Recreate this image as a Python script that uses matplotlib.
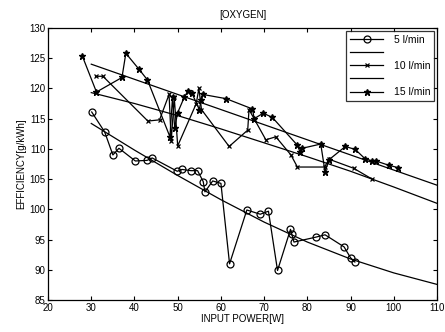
import matplotlib
matplotlib.use("Agg")
import matplotlib.pyplot as plt

p5 = [30.1, 33.1, 35.0, 36.4, 40.2, 42.9, 44.1, 49.9, 51.0, 53.1, 54.6, 55.9, 56.3,
      58.1, 60.0, 62.0, 66.0, 69.1, 71.0, 73.1, 76.1, 76.4, 76.9, 81.9, 84.1, 88.5,
      90.0, 91.0]
e5 = [116.1, 112.8, 109.0, 110.1, 108.0, 108.1, 108.5, 106.3, 106.6, 106.4, 106.4,
      104.6, 102.9, 104.7, 104.3, 91.0, 99.9, 99.2, 99.7, 89.9, 96.7, 95.9, 94.6,
      95.4, 95.8, 93.8, 92.0, 91.3]

p10 = [31.0, 32.7, 43.1, 45.8, 48.0, 48.5, 49.2, 50.0, 54.3, 54.9, 55.5, 61.9, 66.2,
       66.5, 70.4, 72.7, 76.2, 77.7, 84.0, 85.0, 90.7, 95.0]
e10 = [122.0, 122.0, 114.6, 114.8, 119.0, 111.3, 118.5, 110.5, 117.5, 120.0, 116.5,
       110.4, 113.1, 116.5, 111.5, 112.0, 109.0, 107.0, 107.0, 108.3, 106.8, 105.0]

p15 = [27.9, 31.2, 37.1, 38.0, 41.0, 43.0, 48.2, 48.8, 49.3, 50.0, 51.5, 52.3, 53.3,
       55.0, 55.4, 55.8, 61.2, 67.3, 67.7, 69.8, 71.9, 77.7, 78.3, 78.8, 83.1, 84.1,
       85.0, 88.8, 91.1, 93.3, 95.0, 95.9, 98.8, 101.0]
e15 = [125.4, 119.4, 121.8, 125.8, 123.2, 121.4, 112.0, 118.5, 113.5, 116.0, 118.5,
       119.5, 119.2, 116.5, 118.0, 119.0, 118.3, 116.6, 115.0, 115.9, 115.2, 110.6,
       109.5, 110.1, 110.8, 106.2, 108.2, 110.4, 109.9, 108.4, 108.0, 108.0, 107.3,
       106.9]

# fitted curves, read at a few x positions
fit_x = [30, 40, 50, 60, 70, 80, 90, 100, 110]
fit5 = [114.2, 109.8, 105.6, 101.6, 97.9, 94.6, 91.8, 89.5, 87.6]
fit10 = [119.3, 117.5, 115.5, 113.3, 111.0, 108.7, 106.3, 103.7, 101.0]
fit15 = [124.0, 121.5, 119.0, 116.5, 114.0, 111.5, 109.0, 106.5, 104.0]

plt.rcParams.update({"font.family": "Liberation Sans", "font.size": 7})

fig = plt.figure(figsize=(4.45, 3.32), dpi=100)
ax = fig.add_axes([0.108, 0.096, 0.874, 0.820])

l5, = ax.plot(p5, e5, "-o", color="black", lw=0.9, ms=5, mfc="none", mew=0.9)
f5, = ax.plot(fit_x, fit5, "-", color="black", lw=0.9)
l10, = ax.plot(p10, e10, "-x", color="black", lw=0.9, ms=3.5, mew=0.9)
f10, = ax.plot(fit_x, fit10, "-", color="black", lw=0.9)
l15, = ax.plot(p15, e15, "-*", color="black", lw=0.9, ms=4.5)
f15, = ax.plot(fit_x, fit15, "-", color="black", lw=0.9)

ax.set_xlim(20, 110)
ax.set_ylim(85, 130)
ax.set_xticks(range(20, 111, 10))
ax.set_yticks(range(85, 131, 5))
ax.tick_params(direction="in", top=True, right=True, length=3, width=0.8, pad=2)
for s in ax.spines.values():
    s.set_linewidth(0.9)

ax.set_xlabel("INPUT POWER[W]", labelpad=1)
ax.set_ylabel("EFFICIENCY[g/kWh]", labelpad=2)
ax.set_title("[OXYGEN]", fontsize=7, pad=7)

leg = ax.legend([l5, f5, l10, f10, l15],
                ["5 l/min", "", "10 l/min", "", "15 l/min"],
                loc="upper right", fontsize=7.5, frameon=True, fancybox=False,
                edgecolor="black", handlelength=3.2, borderpad=0.35,
                labelspacing=0.3, borderaxespad=0.3, handletextpad=1.0)
leg.get_frame().set_linewidth(0.9)

fig.savefig("out.png", dpi=100)
